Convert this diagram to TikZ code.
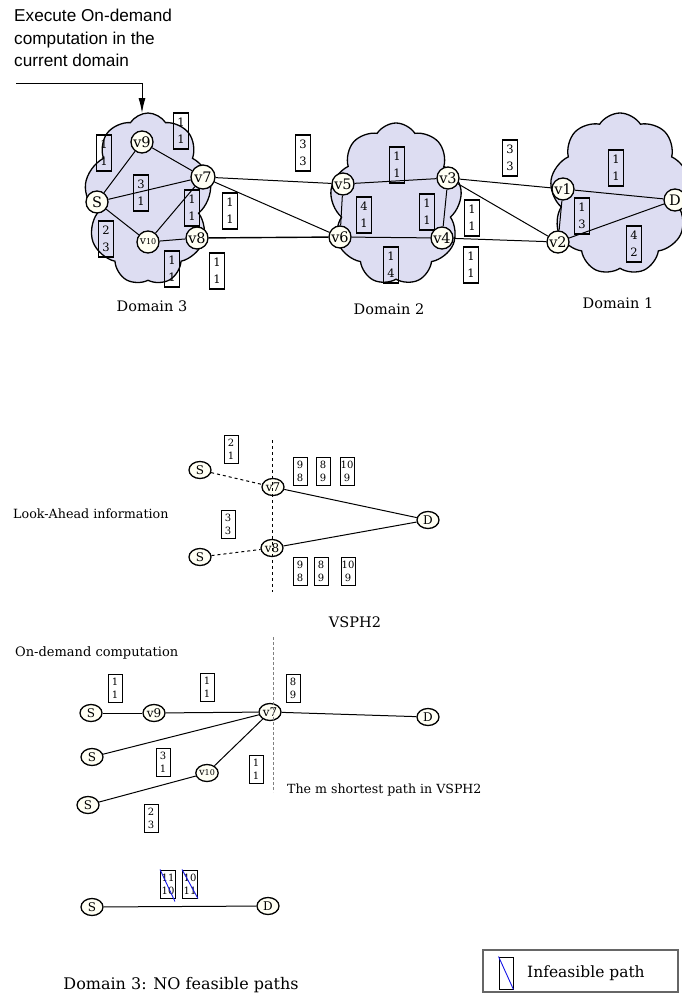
\documentclass[tikz,border=0pt]{standalone}
\usepackage{fontspec}
\setmainfont{DejaVu Serif}
\setsansfont{Liberation Sans}
\usetikzlibrary{shapes.symbols,shapes.geometric,arrows.meta,calc}

\definecolor{cloudfill}{RGB}{221,221,242}
\definecolor{nodefill}{RGB}{255,255,244}
\definecolor{infblue}{RGB}{20,20,230}

\begin{document}
\begin{tikzpicture}[x=1pt,y=-1pt,
  cloudy/.style={cloud,cloud puffs=9,cloud puff arc=115,cloud ignores aspect,
                 draw=black,line width=1.3pt,fill=cloudfill,inner sep=0pt},
  vtx/.style={circle,draw=black,line width=1.3pt,fill=nodefill,minimum size=22pt,
              inner sep=0pt,font=\fontsize{14.5}{14.5}\selectfont},
  vtxs/.style={ellipse,draw=black,line width=1.3pt,fill=nodefill,minimum width=22pt,
               minimum height=17pt,inner sep=0pt,font=\fontsize{12}{12}\selectfont},
  wt/.style={rectangle,draw=black,line width=1.4pt,minimum width=15pt,minimum height=36pt,
             inner sep=0pt,align=center,font=\fontsize{11.5}{17}\selectfont},
  wts/.style={rectangle,draw=black,line width=0.9pt,minimum width=14pt,minimum height=28pt,
              inner sep=0pt,align=center,font=\fontsize{10}{13}\selectfont},
  link/.style={line width=1pt,black},
  lbl/.style={inner sep=0pt,font=\fontsize{13}{13}\selectfont},
  arr/.style={-{Latex[length=15pt,width=7pt]},line width=1pt},
  cross/.style={infblue,line width=0.9pt},
]
\useasboundingbox (0,0) rectangle (681,998);

% ---------- top: three domains ----------
\node[anchor=north west,inner sep=0pt,align=left,font=\sffamily\fontsize{17.2}{22.5}\selectfont]
  (exec) at (14,9) {Execute On-demand\\computation in the\\current domain};
\coordinate (execl) at (16,83);
\coordinate (execd) at (142,113);

\node[cloudy,minimum width=127pt,minimum height=172pt] (dom3) at (148,199) {};
\node[cloudy,minimum width=132pt,minimum height=162pt] (dom2) at (396,204) {};
\node[cloudy,minimum width=140pt,minimum height=162pt] (dom1) at (620,194) {};
\draw[arr] (execl) -| (execd);

\node[vtx] (s) at (97,202) {S};
\node[vtx] (v9) at (142,142) {v9};
\node[vtx,minimum size=24pt] (v7) at (203,177) {v7};
\node[vtx] (v10) at (148,242) {\fontsize{11}{11}\selectfont v\fontsize{8}{8}\selectfont 10};
\node[vtx] (v8) at (197,238) {v8};
\node[vtx] (v5) at (343,184) {v5};
\node[vtx] (v6) at (340,237) {v6};
\node[vtx] (v3) at (448,178) {v3};
\node[vtx] (v4) at (442,238) {v4};
\node[vtx] (v1) at (563,189) {v1};
\node[vtx] (v2) at (558,242) {v2};
\node[vtx] (d) at (675,200) {D};

\foreach \a/\b in {s/v9,s/v7,s/v10,v9/v7,v10/v7,v10/v8,v7/v5,v7/v6,v5/v3,v5/v6,
                   v6/v4,v3/v4,v3/v1,v3/v2,v4/v2,v1/v2,v1/d,v2/d}
  \draw[link] (\a) -- (\b);
\draw[link,line width=1.4pt] (v8) -- (v6);

\node[wt] (w1) at (104,153) {1\\1};
\node[wt] (w2) at (181,131) {1\\1};
\node[wt] (w3) at (141,193) {3\\1};
\node[wt] (w4) at (192,208) {1\\1};
\node[wt] (w5) at (230,211) {1\\1};
\node[wt] (w6) at (106,239) {2\\3};
\node[wt] (w7) at (172,269) {1\\1};
\node[wt] (w8) at (217,271) {1\\1};
\node[wt] (w9) at (303,153) {3\\3};
\node[wt] (w10) at (397,165) {1\\1};
\node[wt] (w11) at (364,215) {4\\1};
\node[wt] (w12) at (427,212) {1\\1};
\node[wt] (w13) at (391,265) {1\\4};
\node[wt] (w14) at (472,218) {1\\1};
\node[wt] (w15) at (471,265) {1\\1};
\node[wt] (w16) at (510,158) {3\\3};
\node[wt] (w17) at (616,168) {1\\1};
\node[wt] (w18) at (582,216) {1\\3};
\node[wt] (w19) at (634,244) {4\\2};

\node[lbl,font=\fontsize{14.5}{14.5}\selectfont] (dl3) at (152,306) {Domain 3};
\node[lbl,font=\fontsize{14.5}{14.5}\selectfont] (dl2) at (389,309) {Domain 2};
\node[lbl,font=\fontsize{14.5}{14.5}\selectfont] (dl1) at (618,303) {Domain 1};

% ---------- middle: look-ahead ----------
\node[lbl,anchor=west,font=\fontsize{12.7}{13}\selectfont] (lainfo) at (13,514) {Look-Ahead information};
\node[vtxs] (las1) at (200,470) {S};
\node[vtxs] (las2) at (200,557) {S};
\node[vtxs] (lav7) at (273,487) {v7};
\node[vtxs] (lav8) at (272,548) {v8};
\node[vtxs] (lad) at (428,520) {D};
\draw[link,dashed] (las1) -- (lav7);
\draw[link,dashed] (las2) -- (lav8);
\draw[link] (lav7) -- (lad);
\draw[link] (lav8) -- (lad);
\coordinate (lat) at (272,440);
\coordinate (lab) at (272,592);
\draw[line width=0.8pt,dashed] (lat) -- (lab);

\node[wts] (la1) at (231,449) {2\\1};
\node[wts] (la2) at (228,524) {3\\3};
\node[wts] (la3) at (300,471) {9\\8};
\node[wts] (la4) at (323,471) {8\\9};
\node[wts] (la5) at (347,471) {10\\9};
\node[wts] (la6) at (300,571) {9\\8};
\node[wts] (la7) at (321,571) {8\\9};
\node[wts] (la8) at (348,571) {10\\9};
\node[lbl,font=\fontsize{14.5}{14.5}\selectfont] (vsph) at (355,622) {VSPH2};

% ---------- lower: on-demand computation ----------
\node[lbl,anchor=west] (odinfo) at (15,653) {On-demand computation};
\node[vtxs] (ods1) at (91,713) {S};
\node[vtxs] (odv9) at (154,713) {v9};
\node[vtxs] (odv7) at (270,712) {v7};
\node[vtxs] (odd) at (428,717) {D};
\node[vtxs] (ods2) at (92,757) {S};
\node[vtxs] (odv10) at (207,773) {\fontsize{10}{10}\selectfont v\fontsize{8}{8}\selectfont 10};
\node[vtxs] (ods3) at (88,805) {S};
\foreach \a/\b in {ods1/odv9,odv9/odv7,ods2/odv7,odv10/odv7,ods3/odv10,odv7/odd}
  \draw[link] (\a) -- (\b);
\coordinate (odt) at (273,637);
\coordinate (odb) at (273,792);
\draw[gray,line width=1pt,dash pattern=on 3pt off 2pt] (odt) -- (odb);

\node[wts] (od1) at (115,688) {1\\1};
\node[wts] (od2) at (207,687) {1\\1};
\node[wts] (od3) at (293,688) {8\\9};
\node[wts] (od4) at (163,762) {3\\1};
\node[wts] (od5) at (256,769) {1\\1};
\node[wts] (od6) at (151,818) {2\\3};
\node[lbl,anchor=west,font=\fontsize{12.6}{13}\selectfont] (mshort) at (287,790) {The m shortest path in VSPH2};

% ---------- bottom: no feasible path ----------
\node[vtxs] (nfs) at (92,907) {S};
\node[vtxs] (nfd) at (268,906) {D};
\draw[link] (nfs) -- (nfd);
\node[wts,minimum width=15pt] (nf1) at (168,884) {11\\10};
\node[wts,minimum width=15pt] (nf2) at (190,884) {10\\11};
\draw[cross] (nf1.north west) -- ($(nf1.south east)+(-1,3)$);
\draw[cross] (nf2.north west) -- (nf2.south east);
\node[lbl,font=\fontsize{16}{16}\selectfont] (nfinfo) at (181,985) {Domain 3: NO feasible paths};

% legend
\node[draw=gray!80!black,line width=1.3pt,minimum width=195pt,minimum height=42pt,inner sep=0pt]
  (legend) at (580.5,971) {};
\node[wts,minimum height=32pt] (legbox) at (506,973) {};
\draw[cross] (legbox.north west) -- (legbox.south east);
\node[lbl,anchor=west,font=\fontsize{15.5}{15.5}\selectfont] (legtxt) at (527,973) {Infeasible path};
\end{tikzpicture}
\end{document}
